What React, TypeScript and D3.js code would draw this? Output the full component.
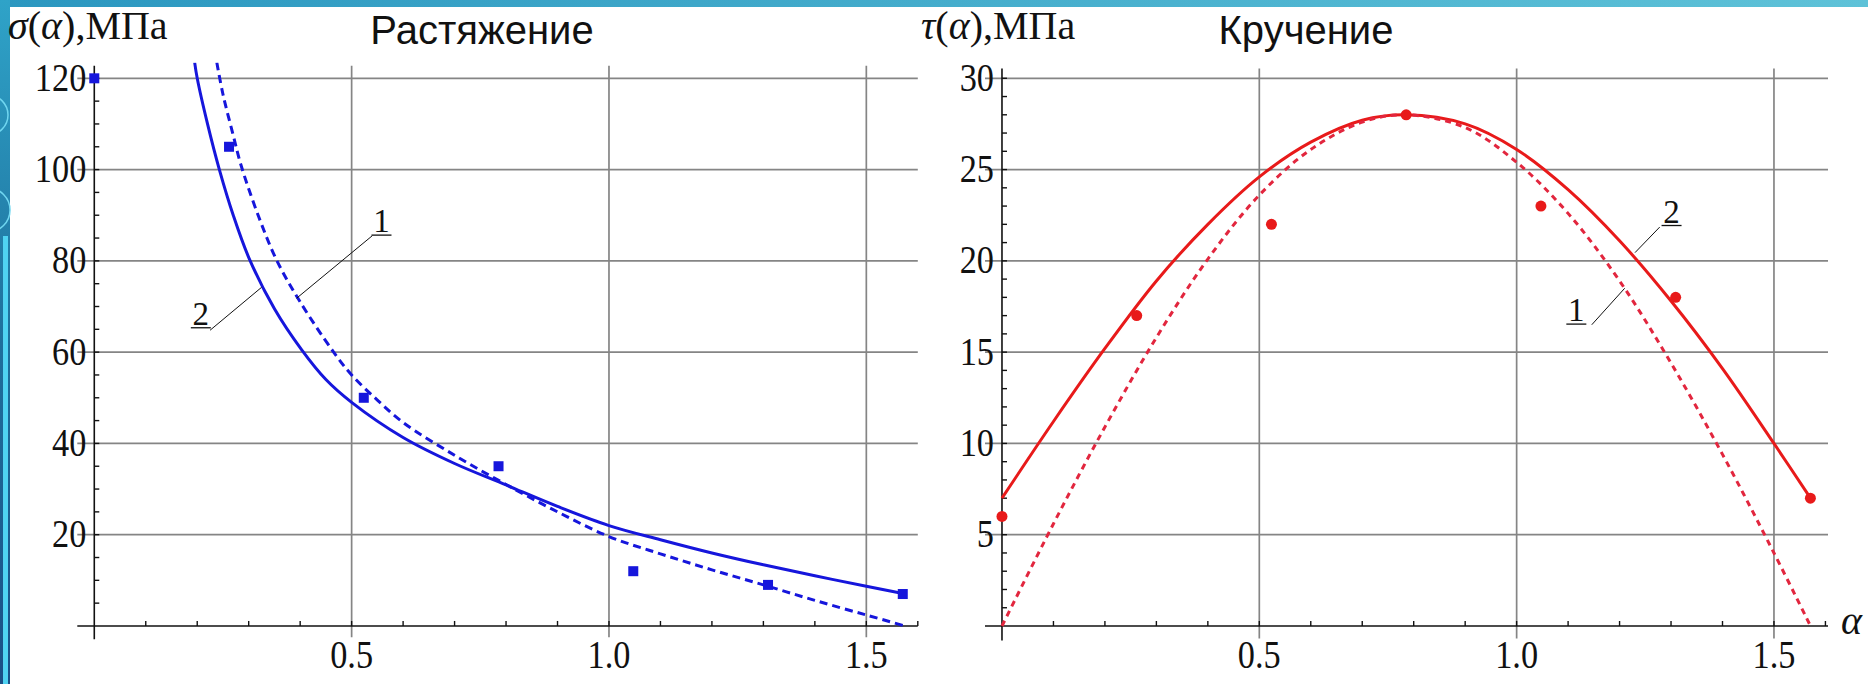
import * as d3 from 'd3';

// angle of the measured points, rad
const alpha = [0, 0.2618, 0.5236, 0.7854, 1.0472, 1.309, 1.5708];
const tensionPoints = [120, 105, 50, 35, 12, 9, 7];
const torsionPoints = [6, 17, 22, 28, 23, 18, 7];

// tension fits
const tension2Alpha = [0.195, 0.2, 0.22, 0.243, 0.27, 0.301, 0.35, 0.403, 0.45, 0.5, 0.6, 0.7, 0.8, 0.9, 1.0, 1.1, 1.2, 1.3, 1.4, 1.5, 1.571];
const tension2 = [123.5, 120, 110, 100, 90, 80.5, 69.5, 60.5, 54, 49, 41.3, 35.6, 30.9, 26.2, 22, 18.9, 16, 13.4, 11, 8.7, 7.1];
const tension1Alpha = [0.238, 0.25, 0.27, 0.285, 0.32, 0.355, 0.4, 0.465, 0.5, 0.55, 0.6, 0.7, 0.8, 0.9, 1.0, 1.1, 1.2, 1.3, 1.4, 1.5, 1.575];
const tension1 = [123.5, 116.5, 107.5, 101, 89.5, 80, 71, 60, 55, 49.5, 44.6, 37.4, 31, 25, 19.6, 15.8, 12.3, 9, 5.6, 2.4, 0];

// torsion fits
const torsionAlpha = [0, 0.1, 0.2, 0.3, 0.4, 0.5, 0.6, 0.7, 0.785, 0.9, 1.0, 1.1, 1.2, 1.3, 1.4, 1.5, 1.571];
const torsion2 = [7, 11.2, 15.2, 18.9, 22, 24.6, 26.5, 27.7, 28, 27.5, 26.1, 23.9, 21.1, 17.8, 14.1, 10, 7];
const torsion1 = [0, 5.6, 10.9, 15.8, 20.1, 23.6, 26.1, 27.6, 28, 27.3, 25.4, 22.6, 18.9, 14.4, 9.4, 4, 0];

const alphaTicks = [0.5, 1.0, 1.5];
const alphaTickLabels = ['0.5', '1.0', '1.5'];
const tensionTicks = [20, 40, 60, 80, 100, 120];
const torsionTicks = [5, 10, 15, 20, 25, 30];

const BLUE = '#1616dc';
const RED = '#e81a1a';

type Note = { text: string; a: number; v: number; from: [number, number]; to: [number, number] };

const tensionNotes: Note[] = [
  { text: '1', a: 0.558, v: 86.3, from: [0.54, 85.5], to: [0.393, 71.8] },
  { text: '2', a: 0.207, v: 66, from: [0.225, 64.8], to: [0.325, 74.2] },
];
const torsionNotes: Note[] = [
  { text: '2', a: 1.301, v: 22.1, from: [1.278, 21.85], to: [1.23, 20.45] },
  { text: '1', a: 1.116, v: 16.7, from: [1.146, 16.5], to: [1.21, 18.5] },
];

type PanelProps = {
  id: string;
  xRange: [number, number];
  xDomain: [number, number];
  yRange: [number, number];
  yDomain: [number, number];
  yTicks: number[];
  minorStep: number;
  yMax: number;
  color: string;
  color1: string;
  fit1: number[];
  fit1Alpha: number[];
  fit2: number[];
  fit2Alpha: number[];
  points: number[];
  square: boolean;
  notes: Note[];
  title: string;
  titleX: number;
  yLabel: string;
  yLabelX: number;
  dash: string;
};

// tick numbers in the original look tall and narrow
const Num = ({ x, y, anchor, children }: { x: number; y: number; anchor: string; children: any }) => (
  <text
    transform={`translate(${x},${y}) scale(0.88,1)`}
    textAnchor={anchor}
    fontFamily="Liberation Serif"
    fontSize={39}
    fill="#111"
  >
    {children}
  </text>
);

function Panel(p: PanelProps) {
  const x = d3.scaleLinear().domain(p.xDomain).range(p.xRange);
  const y = d3.scaleLinear().domain(p.yDomain).range(p.yRange);
  const x0 = x(0);
  const y0 = y(0);
  const top = p.yRange[1];
  const bottom = p.yRange[0];
  const line = d3
    .line<number>()
    .x(d => x(d))
    .curve(d3.curveCatmullRom.alpha(0.5));
  const path1 = line.y((d, i) => y(p.fit1[i]))(p.fit1Alpha) || '';
  const path2 = line.y((d, i) => y(p.fit2[i]))(p.fit2Alpha) || '';
  const minorX = d3.range(1, 17).map(i => i / 10);
  const minorY = d3.range(1, Math.round(p.yMax / p.minorStep) + 1).map(i => i * p.minorStep);

  return (
    <g>
      <defs>
        <clipPath id={p.id}>
          <rect x={p.xRange[0]} y={top} width={p.xRange[1] - p.xRange[0]} height={bottom - top} />
        </clipPath>
      </defs>
      {/* grid */}
      {p.yTicks.map(t => (
        <line key={'h' + t} x1={p.xRange[0]} x2={p.xRange[1]} y1={y(t)} y2={y(t)} stroke="#858585" strokeWidth={1.7} />
      ))}
      {alphaTicks.map(t => (
        <line key={'v' + t} x1={x(t)} x2={x(t)} y1={top + 3} y2={bottom - 2} stroke="#858585" strokeWidth={1.7} />
      ))}
      {/* axes */}
      <line x1={p.xRange[0]} x2={p.xRange[1]} y1={y0} y2={y0} stroke="#111" strokeWidth={1.6} />
      <line x1={x0} x2={x0} y1={bottom} y2={top + 3} stroke="#111" strokeWidth={1.6} />
      {minorX.map(t => (
        <line key={'mx' + t} x1={x(t)} x2={x(t)} y1={y0} y2={y0 - 5} stroke="#111" strokeWidth={1.4} />
      ))}
      {minorY.map(t => (
        <line key={'my' + t} x1={x0} x2={x0 + 5} y1={y(t)} y2={y(t)} stroke="#111" strokeWidth={1.4} />
      ))}
      {/* tick labels */}
      {p.yTicks.map(t => (
        <Num key={'yl' + t} x={x0 - 8} y={y(t) + 12.5} anchor="end">
          {t}
        </Num>
      ))}
      {alphaTicks.map((t, i) => (
        <Num key={'xl' + t} x={x(t)} y={y0 + 42} anchor="middle">
          {alphaTickLabels[i]}
        </Num>
      ))}
      {/* fits */}
      <g clipPath={`url(#${p.id})`}>
        <path d={path2} fill="none" stroke={p.color} strokeWidth={3} />
        <path d={path1} fill="none" stroke={p.color1} strokeWidth={3} strokeDasharray={p.dash} />
      </g>
      {/* measured points */}
      {p.points.map((v, i) =>
        p.square ? (
          <rect key={'p' + i} x={x(alpha[i]) - 5} y={y(v) - 5} width={10} height={10} fill={p.color} />
        ) : (
          <circle key={'p' + i} cx={x(alpha[i])} cy={y(v)} r={5.5} fill={p.color} />
        )
      )}
      {/* curve labels */}
      {p.notes.map((n, i) => {
        const ux1 = x(n.a) - 10;
        const ux2 = x(n.a) + 10;
        return (
          <g key={'n' + i}>
            <text x={x(n.a)} y={y(n.v)} textAnchor="middle" fontFamily="Liberation Serif" fontSize={33} fill="#111">
              {n.text}
            </text>
            <line x1={ux1} x2={ux2} y1={y(n.v) + 3} y2={y(n.v) + 3} stroke="#111" strokeWidth={1.3} />
            <line x1={x(n.from[0])} y1={y(n.from[1])} x2={x(n.to[0])} y2={y(n.to[1])} stroke="#111" strokeWidth={1} />
          </g>
        );
      })}
      {/* titles */}
      <text x={p.titleX} y={44} textAnchor="middle" fontFamily="Liberation Sans" fontSize={40} fill="#111">
        {p.title}
      </text>
      <text x={p.yLabelX} y={39} fontFamily="Liberation Serif" fontSize={40} fill="#111">
        <tspan fontStyle="italic">{p.yLabel}</tspan>(<tspan fontStyle="italic">α</tspan>),МПа
      </text>
    </g>
  );
}

export default function App() {
  return (
    <svg width={1868} height={684} style={{ position: 'absolute', left: 0, top: 0, background: '#fff' }}>
      <defs>
        <linearGradient id="topband" x1="0" x2="1" y1="0" y2="0">
          <stop offset="0" stopColor="#2b97c0" />
          <stop offset="1" stopColor="#5ec2d8" />
        </linearGradient>
        <linearGradient id="leftband" x1="0" x2="0" y1="0" y2="1">
          <stop offset="0" stopColor="#2fa3c8" />
          <stop offset="0.5" stopColor="#1e6f9c" />
          <stop offset="1" stopColor="#1a4f86" />
        </linearGradient>
      </defs>
      <rect x={0} y={0} width={1868} height={684} fill="#fff" />
      <rect x={0} y={0} width={1868} height={7} fill="url(#topband)" />
      <rect x={0} y={0} width={10} height={684} fill="url(#leftband)" />
      <rect x={3} y={236} width={5} height={448} fill="#4fd3f2" />
      <circle cx={-12} cy={115} r={20} fill="none" stroke="#6fd6f0" strokeWidth={1.5} />
      <circle cx={-12} cy={210} r={22} fill="none" stroke="#6fd6f0" strokeWidth={1.5} />

      <Panel
        id="clipL"
        xRange={[77.3, 917.8]}
        xDomain={[-0.033, 1.6]}
        yRange={[639.2, 62.8]}
        yDomain={[-2.9, 123.4]}
        yTicks={tensionTicks}
        minorStep={5}
        yMax={120}
        color={BLUE}
        color1={BLUE}
        fit1={tension1}
        fit1Alpha={tension1Alpha}
        fit2={tension2}
        fit2Alpha={tension2Alpha}
        points={tensionPoints}
        square={true}
        notes={tensionNotes}
        title="Растяжение"
        titleX={482}
        yLabel="σ"
        yLabelX={8}
        dash="8,5"
      />
      <Panel
        id="clipR"
        xRange={[985, 1828]}
        xDomain={[-0.033, 1.605]}
        yRange={[640.6, 65.5]}
        yDomain={[-0.8, 30.7]}
        yTicks={torsionTicks}
        minorStep={1}
        yMax={30}
        color={RED}
        color1="#e2263e"
        fit1={torsion1}
        fit1Alpha={torsionAlpha}
        fit2={torsion2}
        fit2Alpha={torsionAlpha}
        points={torsionPoints}
        square={false}
        notes={torsionNotes}
        title="Кручение"
        titleX={1306}
        yLabel="τ"
        yLabelX={921}
        dash="6,5"
      />
      <text x={1841} y={634} fontFamily="Liberation Serif" fontStyle="italic" fontSize={40} fill="#111">
        α
      </text>
    </svg>
  );
}
